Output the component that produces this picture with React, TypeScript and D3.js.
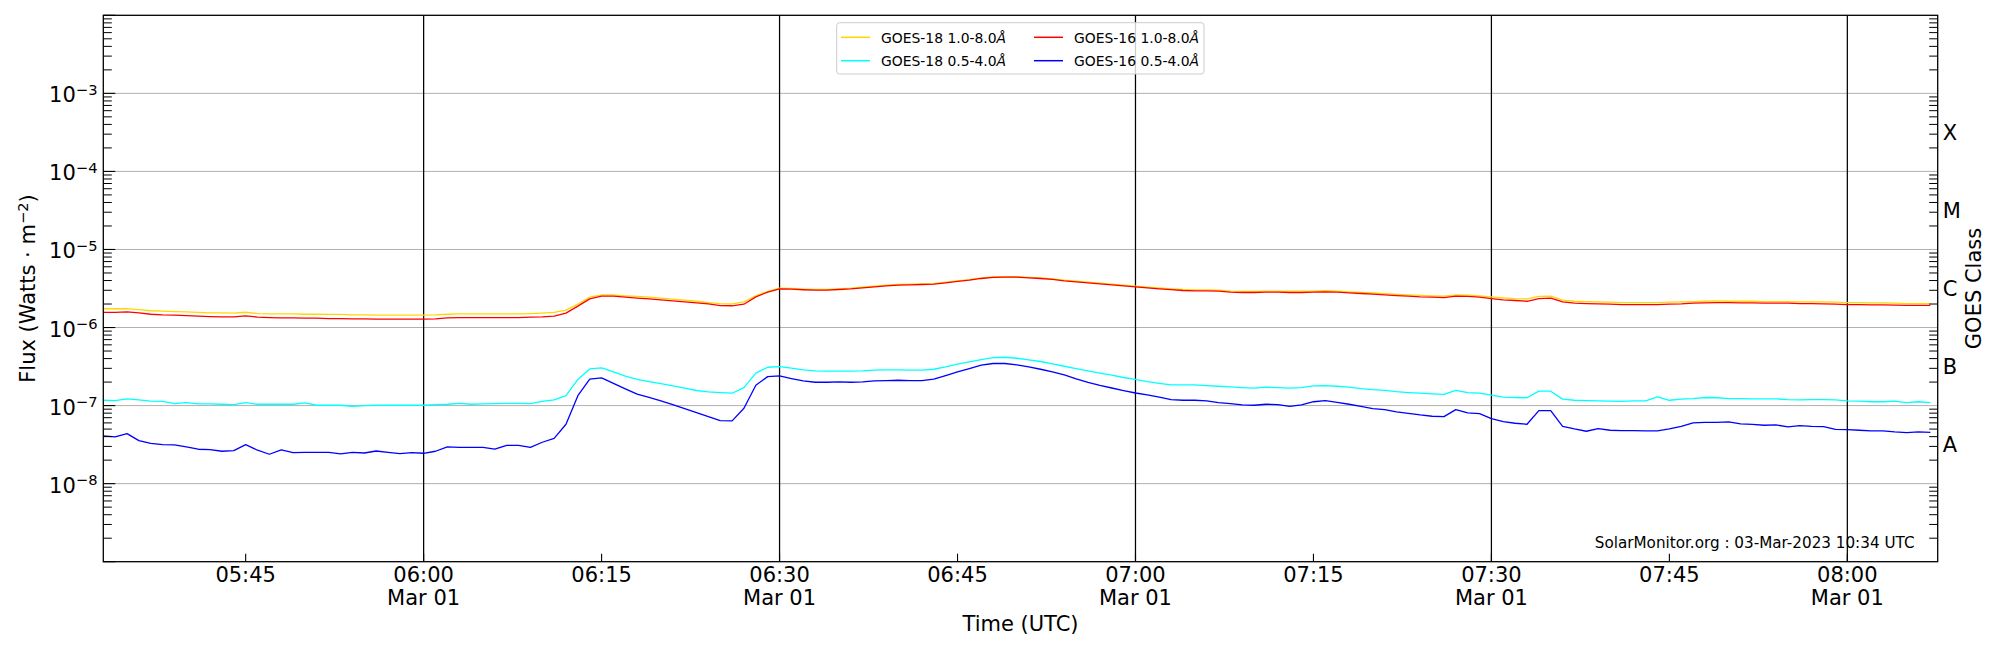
import React from "react";
import * as d3 from "d3";

// ---- Data (GOES XRS, 1-minute cadence starting 2023-03-01 05:33 UTC) ----
const startTimeUTC = Date.UTC(2023, 2, 1, 5, 33);
const domainEndUTC = Date.UTC(2023, 2, 1, 8, 7, 37);

const goes18Long = [
  1.74e-6, 1.74e-6, 1.75e-6, 1.70e-6, 1.64e-6, 1.62e-6, 1.60e-6, 1.59e-6, 1.56e-6, 1.54e-6,
  1.54e-6, 1.53e-6, 1.57e-6, 1.51e-6, 1.50e-6, 1.50e-6, 1.50e-6, 1.48e-6, 1.48e-6, 1.47e-6,
  1.47e-6, 1.45e-6, 1.45e-6, 1.44e-6, 1.44e-6, 1.44e-6, 1.44e-6, 1.44e-6, 1.45e-6, 1.48e-6,
  1.50e-6, 1.50e-6, 1.50e-6, 1.50e-6, 1.50e-6, 1.50e-6, 1.51e-6, 1.53e-6, 1.56e-6, 1.67e-6,
  1.99e-6, 2.45e-6, 2.62e-6, 2.62e-6, 2.55e-6, 2.50e-6, 2.45e-6, 2.38e-6, 2.31e-6, 2.24e-6,
  2.17e-6, 2.09e-6, 2.03e-6, 2.01e-6, 2.13e-6, 2.55e-6, 2.90e-6, 3.19e-6, 3.17e-6, 3.11e-6,
  3.07e-6, 3.07e-6, 3.13e-6, 3.19e-6, 3.28e-6, 3.38e-6, 3.49e-6, 3.56e-6, 3.59e-6, 3.63e-6,
  3.66e-6, 3.81e-6, 3.96e-6, 4.12e-6, 4.32e-6, 4.44e-6, 4.47e-6, 4.47e-6, 4.40e-6, 4.32e-6,
  4.21e-6, 4.05e-6, 3.93e-6, 3.82e-6, 3.71e-6, 3.60e-6, 3.50e-6, 3.40e-6, 3.30e-6, 3.21e-6,
  3.13e-6, 3.07e-6, 3.04e-6, 3.04e-6, 3.01e-6, 2.92e-6, 2.90e-6, 2.90e-6, 2.93e-6, 2.93e-6,
  2.92e-6, 2.92e-6, 2.93e-6, 2.96e-6, 2.93e-6, 2.87e-6, 2.82e-6, 2.77e-6, 2.72e-6, 2.66e-6,
  2.62e-6, 2.58e-6, 2.55e-6, 2.53e-6, 2.62e-6, 2.60e-6, 2.55e-6, 2.47e-6, 2.40e-6, 2.35e-6,
  2.33e-6, 2.50e-6, 2.52e-6, 2.24e-6, 2.17e-6, 2.15e-6, 2.13e-6, 2.11e-6, 2.09e-6, 2.09e-6,
  2.09e-6, 2.09e-6, 2.11e-6, 2.13e-6, 2.15e-6, 2.17e-6, 2.20e-6, 2.17e-6, 2.17e-6, 2.17e-6,
  2.15e-6, 2.15e-6, 2.15e-6, 2.13e-6, 2.13e-6, 2.13e-6, 2.11e-6, 2.09e-6, 2.09e-6, 2.07e-6,
  2.07e-6, 2.05e-6, 2.03e-6, 2.03e-6, 2.03e-6,
];

const goes16Long = [
  1.56e-6, 1.56e-6, 1.59e-6, 1.54e-6, 1.48e-6, 1.45e-6, 1.44e-6, 1.42e-6, 1.40e-6, 1.38e-6,
  1.37e-6, 1.37e-6, 1.41e-6, 1.36e-6, 1.34e-6, 1.33e-6, 1.33e-6, 1.32e-6, 1.32e-6, 1.30e-6,
  1.30e-6, 1.29e-6, 1.29e-6, 1.28e-6, 1.28e-6, 1.28e-6, 1.28e-6, 1.28e-6, 1.29e-6, 1.33e-6,
  1.34e-6, 1.34e-6, 1.34e-6, 1.34e-6, 1.34e-6, 1.34e-6, 1.36e-6, 1.37e-6, 1.40e-6, 1.53e-6,
  1.88e-6, 2.33e-6, 2.52e-6, 2.52e-6, 2.45e-6, 2.38e-6, 2.33e-6, 2.26e-6, 2.20e-6, 2.13e-6,
  2.07e-6, 2.01e-6, 1.91e-6, 1.90e-6, 1.99e-6, 2.47e-6, 2.84e-6, 3.13e-6, 3.10e-6, 3.05e-6,
  3.01e-6, 3.01e-6, 3.07e-6, 3.13e-6, 3.22e-6, 3.32e-6, 3.42e-6, 3.49e-6, 3.52e-6, 3.56e-6,
  3.59e-6, 3.74e-6, 3.89e-6, 4.05e-6, 4.25e-6, 4.38e-6, 4.42e-6, 4.42e-6, 4.33e-6, 4.25e-6,
  4.13e-6, 3.97e-6, 3.85e-6, 3.74e-6, 3.63e-6, 3.52e-6, 3.42e-6, 3.32e-6, 3.22e-6, 3.13e-6,
  3.05e-6, 2.98e-6, 2.95e-6, 2.95e-6, 2.92e-6, 2.84e-6, 2.81e-6, 2.81e-6, 2.84e-6, 2.84e-6,
  2.81e-6, 2.81e-6, 2.84e-6, 2.87e-6, 2.84e-6, 2.78e-6, 2.73e-6, 2.68e-6, 2.62e-6, 2.57e-6,
  2.52e-6, 2.47e-6, 2.45e-6, 2.42e-6, 2.52e-6, 2.50e-6, 2.45e-6, 2.35e-6, 2.26e-6, 2.22e-6,
  2.17e-6, 2.35e-6, 2.38e-6, 2.13e-6, 2.05e-6, 2.03e-6, 2.01e-6, 1.99e-6, 1.97e-6, 1.97e-6,
  1.97e-6, 1.97e-6, 1.99e-6, 2.01e-6, 2.05e-6, 2.07e-6, 2.09e-6, 2.09e-6, 2.07e-6, 2.07e-6,
  2.05e-6, 2.05e-6, 2.05e-6, 2.03e-6, 2.03e-6, 2.01e-6, 1.99e-6, 1.97e-6, 1.97e-6, 1.95e-6,
  1.95e-6, 1.94e-6, 1.92e-6, 1.92e-6, 1.92e-6,
];

const goes18Short = [
  1.17e-7, 1.16e-7, 1.22e-7, 1.18e-7, 1.14e-7, 1.13e-7, 1.06e-7, 1.09e-7, 1.05e-7, 1.05e-7,
  1.04e-7, 1.03e-7, 1.09e-7, 1.04e-7, 1.04e-7, 1.04e-7, 1.04e-7, 1.08e-7, 1.01e-7, 1.01e-7,
  1.01e-7, 0.98e-7, 1.00e-7, 1.01e-7, 1.01e-7, 1.01e-7, 1.01e-7, 1.01e-7, 1.03e-7, 1.04e-7,
  1.07e-7, 1.04e-7, 1.05e-7, 1.06e-7, 1.07e-7, 1.07e-7, 1.06e-7, 1.13e-7, 1.18e-7, 1.34e-7,
  2.16e-7, 2.95e-7, 3.04e-7, 2.70e-7, 2.38e-7, 2.16e-7, 2.03e-7, 1.91e-7, 1.79e-7, 1.67e-7,
  1.56e-7, 1.50e-7, 1.47e-7, 1.44e-7, 1.70e-7, 2.60e-7, 3.10e-7, 3.16e-7, 3.01e-7, 2.87e-7,
  2.78e-7, 2.76e-7, 2.76e-7, 2.76e-7, 2.78e-7, 2.84e-7, 2.87e-7, 2.87e-7, 2.84e-7, 2.84e-7,
  2.92e-7, 3.13e-7, 3.39e-7, 3.63e-7, 3.89e-7, 4.12e-7, 4.16e-7, 4.04e-7, 3.85e-7, 3.67e-7,
  3.42e-7, 3.19e-7, 2.98e-7, 2.78e-7, 2.60e-7, 2.45e-7, 2.29e-7, 2.16e-7, 2.03e-7, 1.93e-7,
  1.84e-7, 1.84e-7, 1.84e-7, 1.80e-7, 1.77e-7, 1.74e-7, 1.70e-7, 1.67e-7, 1.72e-7, 1.70e-7,
  1.67e-7, 1.70e-7, 1.79e-7, 1.80e-7, 1.77e-7, 1.72e-7, 1.65e-7, 1.60e-7, 1.57e-7, 1.51e-7,
  1.47e-7, 1.44e-7, 1.41e-7, 1.39e-7, 1.57e-7, 1.47e-7, 1.44e-7, 1.36e-7, 1.28e-7, 1.27e-7,
  1.26e-7, 1.53e-7, 1.53e-7, 1.21e-7, 1.17e-7, 1.16e-7, 1.15e-7, 1.14e-7, 1.13e-7, 1.15e-7,
  1.15e-7, 1.29e-7, 1.17e-7, 1.21e-7, 1.23e-7, 1.27e-7, 1.26e-7, 1.23e-7, 1.23e-7, 1.22e-7,
  1.22e-7, 1.22e-7, 1.19e-7, 1.18e-7, 1.19e-7, 1.19e-7, 1.18e-7, 1.15e-7, 1.14e-7, 1.12e-7,
  1.12e-7, 1.14e-7, 1.09e-7, 1.12e-7, 1.09e-7,
];

const goes16Short = [
  4.08e-8, 3.97e-8, 4.37e-8, 3.56e-8, 3.29e-8, 3.16e-8, 3.13e-8, 2.95e-8, 2.76e-8, 2.73e-8,
  2.60e-8, 2.65e-8, 3.16e-8, 2.68e-8, 2.38e-8, 2.70e-8, 2.50e-8, 2.52e-8, 2.52e-8, 2.52e-8,
  2.40e-8, 2.52e-8, 2.47e-8, 2.62e-8, 2.52e-8, 2.42e-8, 2.50e-8, 2.45e-8, 2.60e-8, 2.95e-8,
  2.92e-8, 2.92e-8, 2.92e-8, 2.76e-8, 3.10e-8, 3.10e-8, 2.92e-8, 3.39e-8, 3.81e-8, 5.76e-8,
  1.34e-7, 2.18e-7, 2.27e-7, 1.93e-7, 1.64e-7, 1.40e-7, 1.27e-7, 1.15e-7, 1.03e-7, 9.15e-8,
  8.13e-8, 7.23e-8, 6.42e-8, 6.36e-8, 9.24e-8, 1.82e-7, 2.35e-7, 2.40e-7, 2.22e-7, 2.07e-7,
  1.99e-7, 1.99e-7, 2.01e-7, 1.99e-7, 2.01e-7, 2.07e-7, 2.09e-7, 2.11e-7, 2.09e-7, 2.09e-7,
  2.18e-7, 2.42e-7, 2.70e-7, 2.98e-7, 3.29e-7, 3.46e-7, 3.46e-7, 3.32e-7, 3.13e-7, 2.92e-7,
  2.70e-7, 2.47e-7, 2.20e-7, 1.99e-7, 1.82e-7, 1.68e-7, 1.56e-7, 1.45e-7, 1.37e-7, 1.28e-7,
  1.19e-7, 1.17e-7, 1.17e-7, 1.15e-7, 1.09e-7, 1.06e-7, 1.02e-7, 1.01e-7, 1.04e-7, 1.03e-7,
  9.80e-8, 1.02e-7, 1.12e-7, 1.16e-7, 1.10e-7, 1.04e-7, 9.80e-8, 9.15e-8, 8.89e-8, 8.29e-8,
  7.97e-8, 7.59e-8, 7.30e-8, 7.23e-8, 8.89e-8, 8.05e-8, 7.90e-8, 6.81e-8, 6.23e-8, 5.94e-8,
  5.76e-8, 8.63e-8, 8.63e-8, 5.43e-8, 5.02e-8, 4.69e-8, 5.07e-8, 4.83e-8, 4.78e-8, 4.78e-8,
  4.73e-8, 4.73e-8, 5.02e-8, 5.43e-8, 6.00e-8, 6.11e-8, 6.11e-8, 6.17e-8, 5.82e-8, 5.76e-8,
  5.60e-8, 5.65e-8, 5.33e-8, 5.54e-8, 5.43e-8, 5.38e-8, 4.97e-8, 4.92e-8, 4.83e-8, 4.73e-8,
  4.73e-8, 4.60e-8, 4.51e-8, 4.60e-8, 4.55e-8,
];

const seriesNames = ["GOES-18 1.0-8.0", "GOES-18 0.5-4.0", "GOES-16 1.0-8.0", "GOES-16 0.5-4.0"];
const seriesColors = ["#ffd700", "#00ffff", "#ff0000", "#0000ff"];
const seriesValues = [goes18Long, goes18Short, goes16Long, goes16Short];

const yExponents = [-8, -7, -6, -5, -4, -3];
const goesClasses = ["A", "B", "C", "M", "X"];
const goesClassCenters = [10 ** -7.5, 10 ** -6.5, 10 ** -5.5, 10 ** -4.5, 10 ** -3.5];
const markerTimesUTC = [
  Date.UTC(2023, 2, 1, 6, 0),
  Date.UTC(2023, 2, 1, 6, 30),
  Date.UTC(2023, 2, 1, 7, 0),
  Date.UTC(2023, 2, 1, 7, 30),
  Date.UTC(2023, 2, 1, 8, 0),
];
const watermark = "SolarMonitor.org : 03-Mar-2023 10:34 UTC";

const FONT = "'DejaVu Sans', sans-serif";

export default function App() {
  const W = 2000;
  const H = 650;
  const left = 103.3;
  const right = 1937.7;
  const top = 15.3;
  const bottom = 561.7;

  const x = d3
    .scaleUtc()
    .domain([new Date(startTimeUTC), new Date(domainEndUTC)])
    .range([left, right]);
  const y = d3.scaleLog().domain([1e-9, 1e-2]).range([bottom, top]);

  const times = goes18Long.map((_, i) => new Date(startTimeUTC + i * 60000));

  const line = d3
    .line<number>()
    .x((_, i) => x(times[i]))
    .y((v) => y(v));

  const xTicks = x.ticks(d3.utcMinute.every(15) as any);
  const fmt = d3.utcFormat("%H:%M");

  const minorVals: number[] = [];
  for (let e = -9; e < -2; e++) {
    for (let k = 2; k <= 9; k++) minorVals.push(k * 10 ** e);
  }
  const majorVals = d3.range(-9, -1).map((e) => 10 ** e);

  const tickFont = 21;

  return (
    <svg
      width={W}
      height={H}
      style={{ position: "fixed", left: 0, top: 0, background: "#fff" }}
      fontFamily={FONT}
    >
      <rect x={0} y={0} width={W} height={H} fill="#fff" />
      {/* grid */}
      {yExponents.map((e) => (
        <line
          key={"g" + e}
          x1={left}
          x2={right}
          y1={y(10 ** e)}
          y2={y(10 ** e)}
          stroke="#b0b0b0"
          strokeWidth={1}
        />
      ))}
      {/* vertical markers */}
      {markerTimesUTC.map((t) => (
        <line
          key={"v" + t}
          x1={x(new Date(t))}
          x2={x(new Date(t))}
          y1={top}
          y2={bottom}
          stroke="#000"
          strokeWidth={1.25}
        />
      ))}
      {/* data */}
      {seriesValues.map((vals, i) => (
        <path
          key={"s" + i}
          d={line(vals) || ""}
          fill="none"
          stroke={seriesColors[i]}
          strokeWidth={1.3}
          strokeLinejoin="round"
        />
      ))}
      {/* minor ticks left & right */}
      {minorVals.map((v, i) => (
        <g key={"m" + i}>
          <line x1={left} x2={left + 8.5} y1={y(v)} y2={y(v)} stroke="#000" strokeWidth={1} />
          <line x1={right} x2={right - 8.5} y1={y(v)} y2={y(v)} stroke="#000" strokeWidth={1} />
        </g>
      ))}
      {majorVals.map((v, i) => (
        <line key={"M" + i} x1={left} x2={left + 12} y1={y(v)} y2={y(v)} stroke="#000" strokeWidth={1.1} />
      ))}
      {/* x ticks */}
      {xTicks.map((t, i) => (
        <line key={"xt" + i} x1={x(t)} x2={x(t)} y1={bottom} y2={bottom - 8} stroke="#000" strokeWidth={1.1} />
      ))}
      {/* axes frame */}
      <rect
        x={left}
        y={top}
        width={right - left}
        height={bottom - top}
        fill="none"
        stroke="#000"
        strokeWidth={1.3}
      />
      {/* y tick labels */}
      {yExponents.map((e) => (
        <text key={"yl" + e} x={97.5} y={y(10 ** e) + 9} textAnchor="end" fontSize={tickFont} fill="#000">
          10
          <tspan fontSize={14.7} dy={-7.3}>
            {"\u2212" + Math.abs(e)}
          </tspan>
        </text>
      ))}
      {/* x tick labels */}
      {xTicks.map((t, i) => (
        <g key={"xl" + i}>
          <text x={x(t)} y={582.3} textAnchor="middle" fontSize={tickFont} fill="#000">
            {fmt(t)}
          </text>
          {t.getUTCMinutes() % 30 === 0 && (
            <text x={x(t)} y={605} textAnchor="middle" fontSize={tickFont} fill="#000">
              {d3.utcFormat("%b %d")(t)}
            </text>
          )}
        </g>
      ))}
      {/* axis labels */}
      <text x={(left + right) / 2} y={630.5} textAnchor="middle" fontSize={tickFont} fill="#000">
        Time (UTC)
      </text>
      <text
        transform={`translate(35,${(top + bottom) / 2}) rotate(-90)`}
        textAnchor="middle"
        fontSize={tickFont}
        fill="#000"
      >
        Flux (Watts · m
        <tspan fontSize={14.7} dy={-7.3}>
          {"\u22122"}
        </tspan>
        <tspan dy={7.3}>)</tspan>
      </text>
      <text
        transform={`translate(1980.5,${(top + bottom) / 2}) rotate(-90)`}
        textAnchor="middle"
        fontSize={tickFont}
        fill="#000"
      >
        GOES Class
      </text>
      {goesClasses.map((c, i) => (
        <text key={"c" + c} x={1942.7} y={y(goesClassCenters[i]) + 7.6} fontSize={tickFont} fill="#000">
          {c}
        </text>
      ))}
      {/* watermark */}
      <text x={1914.5} y={547.5} textAnchor="end" fontSize={15.2} fill="#000">
        {watermark}
      </text>
      {/* legend */}
      <g>
        <rect
          x={836.7}
          y={22.7}
          width={367.3}
          height={51.3}
          rx={3}
          fill="#fff"
          fillOpacity={0.8}
          stroke="#cccccc"
          strokeWidth={1}
        />
        {[0, 1, 2, 3].map((i) => {
          const col = i < 2 ? 0 : 1;
          const row = i % 2;
          const lx = col === 0 ? 841 : 1034;
          const ly = row === 0 ? 37.3 : 60.7;
          return (
            <g key={"lg" + i}>
              <line x1={lx} x2={lx + 29} y1={ly} y2={ly} stroke={seriesColors[i]} strokeWidth={1.5} />
              <text x={lx + 40} y={ly + 5.4} fontSize={13.9} fill="#000">
                {seriesNames[i]}
                <tspan fontStyle="italic">Å</tspan>
              </text>
            </g>
          );
        })}
      </g>
    </svg>
  );
}
